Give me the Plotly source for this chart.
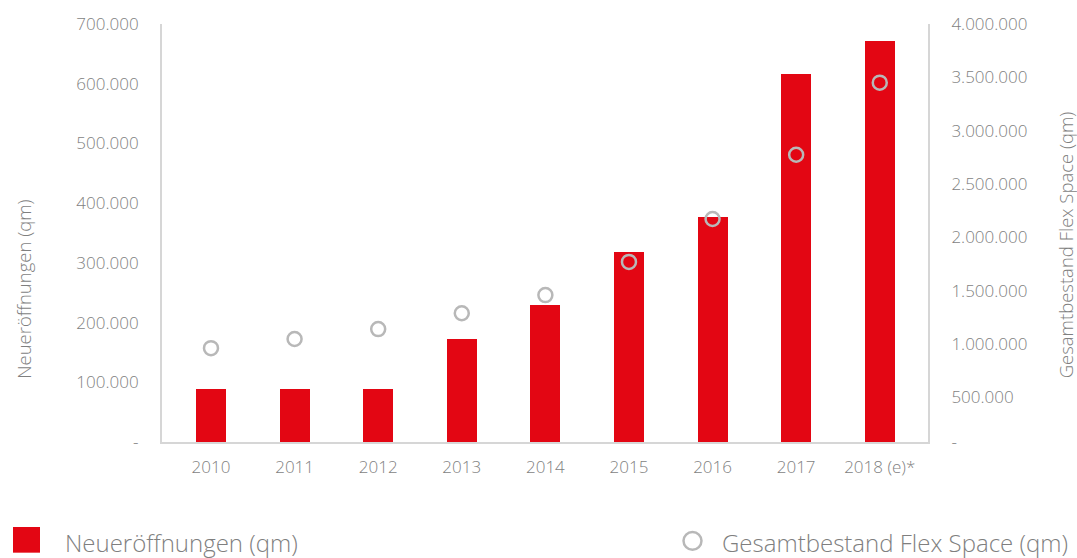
import plotly.graph_objects as go

years = ["2010", "2011", "2012", "2013", "2014", "2015", "2016", "2017", "2018 (e)*"]
neueroeffnungen = [89000, 89000, 89000, 172000, 230000, 319000, 377000, 616000, 672000]
gesamtbestand = [960000, 1046000, 1139000, 1287000, 1458000, 1769000, 2171000, 2774000, 3450000]

left_tickvals = [0, 100000, 200000, 300000, 400000, 500000, 600000, 700000]
left_ticktext = ["-", "100.000", "200.000", "300.000", "400.000", "500.000", "600.000", "700.000"]
right_tickvals = [80000, 500000, 1000000, 1500000, 2000000, 2500000, 3000000, 3500000, 4000000]
right_ticktext = ["-", "500.000", "1.000.000", "1.500.000", "2.000.000", "2.500.000",
                  "3.000.000", "3.500.000", "4.000.000"]

RED = "#e30613"
CIRCLE = "#b8b8b8"
TXT = "#7f7f7f"
AXIS = "#d6d6d6"
FONT = "Open Sans"

W, H = 1077, 558
L, R, T, B = 162, 928, 19, 442


def px(x):
    return (x - L) / (R - L)


def py(y):
    return (B - y) / (B - T)


fig = go.Figure()
fig.add_trace(go.Bar(x=years, y=neueroeffnungen, marker=dict(color=RED, line=dict(width=0)),
                     width=0.36, name="Neueröffnungen (qm)", showlegend=False))
fig.add_trace(go.Scatter(x=years, y=gesamtbestand, yaxis="y2", mode="markers",
                         marker=dict(symbol="circle-open", size=14, color=CIRCLE, line=dict(width=2.5, color=CIRCLE)),
                         name="Gesamtbestand Flex Space (qm)", showlegend=False))

fig.update_layout(
    width=W, height=H,
    margin=dict(l=L, r=W - R, t=T, b=H - B, pad=0),
    paper_bgcolor="white", plot_bgcolor="white",
    font=dict(family=FONT, color=TXT, size=17, weight=300),
    xaxis=dict(range=[-0.586, 8.577], showgrid=False, zeroline=False, showline=True,
               linecolor=AXIS, linewidth=2, ticks="", ticklabelstandoff=9,
               tickfont=dict(size=17, color=TXT, family=FONT, weight=300)),
    yaxis=dict(range=[0, 700000], tickvals=left_tickvals, ticktext=left_ticktext,
               showgrid=False, zeroline=False, showline=True, linecolor=AXIS, linewidth=2,
               ticks="", ticklabelstandoff=18,
               tickfont=dict(size=17, color=TXT, family=FONT, weight=300)),
    yaxis2=dict(range=[80000, 4000000], tickvals=right_tickvals, ticktext=right_ticktext,
                overlaying="y", side="right", showgrid=False, zeroline=False, showline=True,
                linecolor=AXIS, linewidth=2, ticks="", ticklabelstandoff=18,
                tickfont=dict(size=17, color=TXT, family=FONT, weight=300)),
    bargap=0.0,
)

# axis titles
fig.add_annotation(text="Neueröffnungen (qm)", x=px(24), y=py(288), xref="paper", yref="paper",
                   textangle=-90, showarrow=False, xanchor="center", yanchor="middle",
                   font=dict(size=18.5, color=TXT, family=FONT, weight=300))
fig.add_annotation(text="Gesamtbestand Flex Space (qm)", x=px(1065), y=py(243), xref="paper", yref="paper",
                   textangle=-90, showarrow=False, xanchor="center", yanchor="middle",
                   font=dict(size=18.5, color=TXT, family=FONT, weight=300))

# legend
fig.add_shape(type="rect", xref="paper", yref="paper", x0=px(13), x1=px(40), y0=py(554), y1=py(528),
              fillcolor=RED, line=dict(width=0))
fig.add_annotation(text="Neueröffnungen (qm)", x=px(63), y=py(544), xref="paper", yref="paper",
                   showarrow=False, xanchor="left", yanchor="middle",
                   font=dict(size=24, color=TXT, family=FONT, weight=300))
fig.add_shape(type="circle", xref="paper", yref="paper", x0=px(683.5), x1=px(701.5), y0=py(551), y1=py(533),
              fillcolor="rgba(0,0,0,0)", line=dict(width=2.5, color=CIRCLE))
fig.add_annotation(text="Gesamtbestand Flex Space (qm)", x=px(720), y=py(544), xref="paper", yref="paper",
                   showarrow=False, xanchor="left", yanchor="middle",
                   font=dict(size=24, color=TXT, family=FONT, weight=300))

fig.write_html("out.html", config={"displayModeBar": False},
               post_script="document.body.style.margin='0';document.body.style.overflow='hidden';")
